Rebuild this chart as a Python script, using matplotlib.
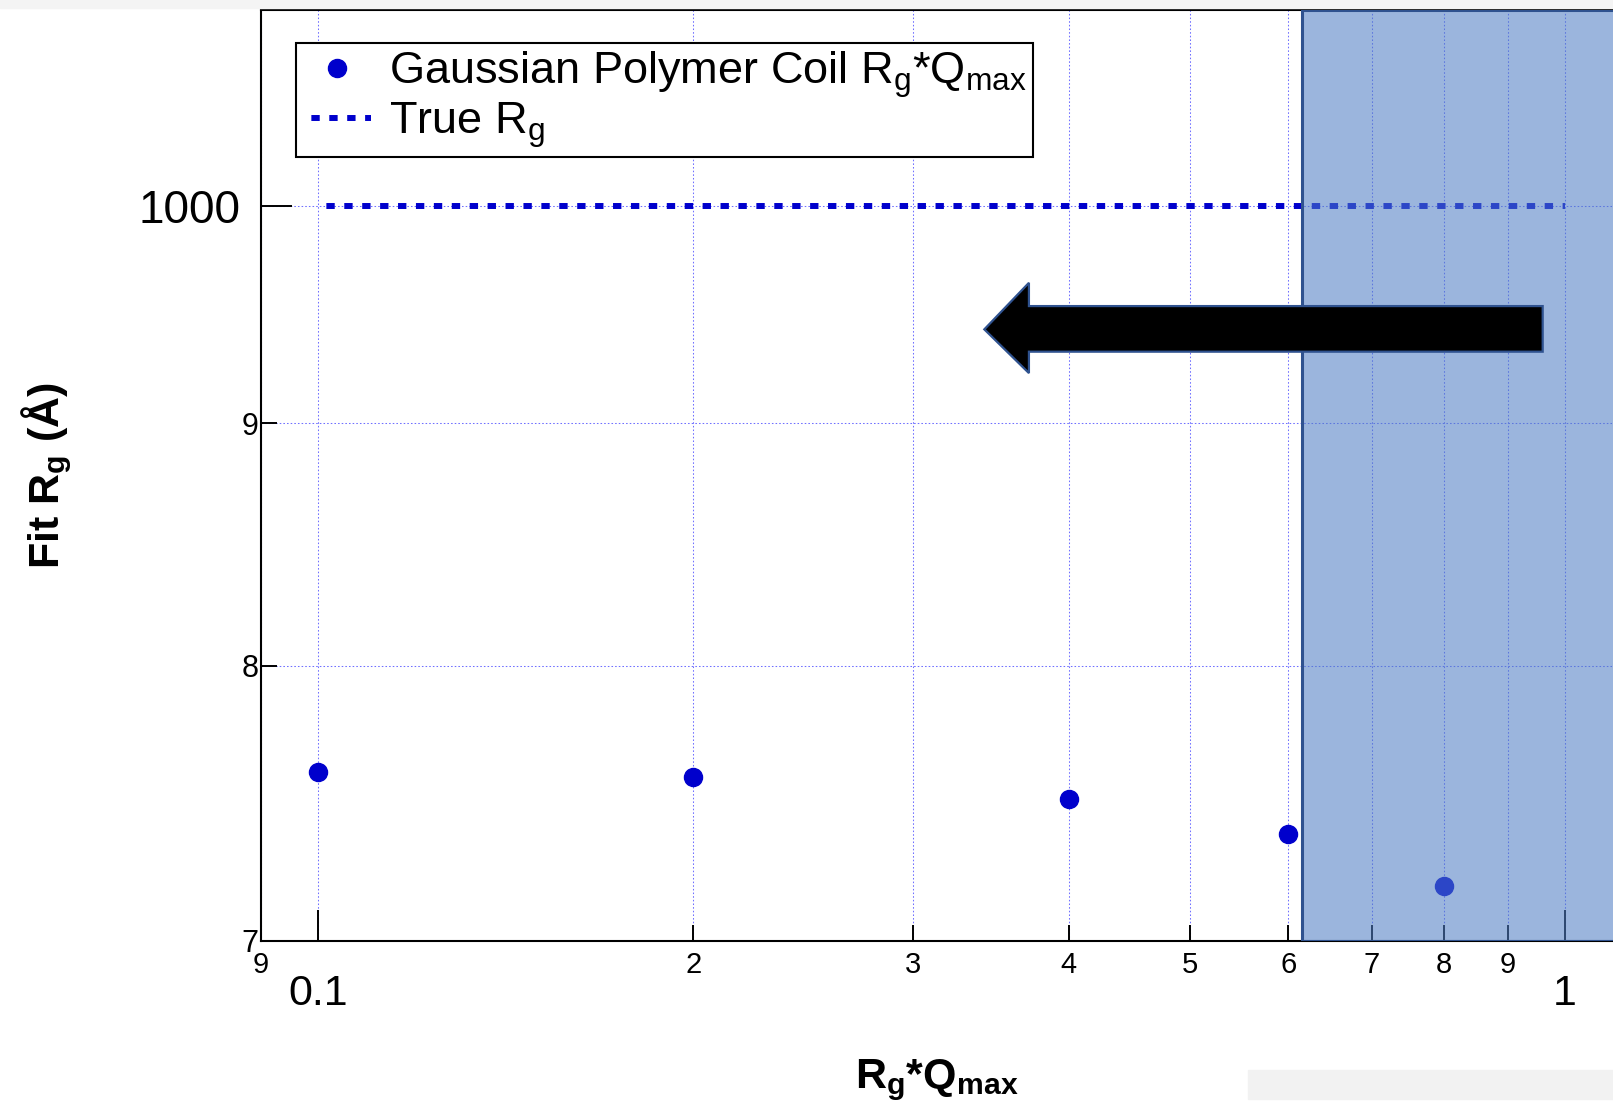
"""
Fit Rg vs Rg*Qmax for a Gaussian polymer coil -> out.png
"""
import matplotlib
matplotlib.use("Agg")
import matplotlib.pyplot as plt
from matplotlib.patches import Polygon, Rectangle
from matplotlib.ticker import FixedLocator, FixedFormatter

plt.rcParams["font.family"] = ["Liberation Sans", "DejaVu Sans"]
plt.rcParams["mathtext.fontset"] = "custom"
plt.rcParams["mathtext.rm"] = "Liberation Sans"
plt.rcParams["mathtext.it"] = "Liberation Sans:italic"
plt.rcParams["mathtext.bf"] = "Liberation Sans:bold"

# ---- data ----
rgq = [0.1, 0.2, 0.4, 0.6, 0.8]
fit_rg = [760, 758, 750, 737.5, 719]
true_rg = 1000
true_x = [0.1, 1.0]
shade_start = 0.615          # invalid-fit region starts here

x_major = [0.1, 1]
x_major_lab = ["0.1", "1"]
x_minor = [0.09, 0.2, 0.3, 0.4, 0.5, 0.6, 0.7, 0.8, 0.9]
x_minor_lab = ["9", "2", "3", "4", "5", "6", "7", "8", "9"]
y_major = [1000]
y_major_lab = ["1000"]
y_minor = [700, 800, 900]
y_minor_lab = ["7", "8", "9"]

# arrow outline in axes fraction (tip, head, shaft)
arrow_xy = [(0.535, 0.657), (0.568, 0.707), (0.568, 0.682), (0.948, 0.682),
            (0.948, 0.633), (0.568, 0.633), (0.568, 0.610)]

BLUE = "#0000CC"
GRIDC = "#6F6FFF"
EDGE = "#2F528F"

fig = plt.figure(figsize=(16.13, 11.02), dpi=100)
ax = fig.add_axes([0.1618, 0.1461, 0.8382, 0.8448])
ax.set_xscale("log"); ax.set_yscale("log")
ax.set_xlim(0.09, 1.093); ax.set_ylim(700, 1100)

ax.xaxis.set_major_locator(FixedLocator(x_major))
ax.xaxis.set_major_formatter(FixedFormatter(x_major_lab))
ax.xaxis.set_minor_locator(FixedLocator(x_minor))
ax.xaxis.set_minor_formatter(FixedFormatter(x_minor_lab))
ax.yaxis.set_major_locator(FixedLocator(y_major))
ax.yaxis.set_major_formatter(FixedFormatter(y_major_lab))
ax.yaxis.set_minor_locator(FixedLocator(y_minor))
ax.yaxis.set_minor_formatter(FixedFormatter(y_minor_lab))

ax.tick_params(which="both", direction="in", width=1.4, color="black")
ax.tick_params(which="major", length=22)
ax.tick_params(which="minor", length=11.5)
ax.tick_params(axis="x", which="major", labelsize=31, pad=24)
ax.tick_params(axis="x", which="minor", labelsize=21, pad=7)
ax.tick_params(axis="y", which="major", labelsize=33, pad=15)
ax.tick_params(axis="y", which="minor", labelsize=22, pad=2)

ax.grid(True, which="both", ls=(0, (1.5, 2)), color=GRIDC, lw=0.75)
for s in ["left", "bottom", "top"]:
    ax.spines[s].set_linewidth(1.5)
ax.spines["right"].set_visible(False)

ax.plot(rgq, fit_rg, "o", color=BLUE, ms=13, zorder=2.6,
        label=r"Gaussian Polymer Coil R$_\mathrm{g}$*Q$_\mathrm{max}$")
ax.plot(true_x, [true_rg, true_rg], color=BLUE, lw=4.3,
        ls=(1.6, (1.4, 1.6)), dash_capstyle="butt", zorder=2.6,
        label=r"True R$_\mathrm{g}$")

# shaded region (semi-transparent, on top of data)
ax.axvspan(shade_start, 1.2, facecolor=(0.31, 0.49, 0.77, 0.57),
           edgecolor=EDGE, lw=2.2, zorder=3)

ax.add_patch(Polygon(arrow_xy, closed=True, transform=ax.transAxes,
                     facecolor="black", edgecolor=EDGE, lw=1.6, zorder=4))

leg = ax.legend(loc="upper left", bbox_to_anchor=(0.026, 0.965), fontsize=32.5,
                frameon=True, fancybox=False, framealpha=1, edgecolor="black",
                handlelength=1.5, handletextpad=0.4, borderpad=0.15,
                labelspacing=0.0, borderaxespad=0)
leg.get_frame().set_linewidth(1.5)
leg.set_zorder(5)

ax.set_xlabel(r"$\mathbf{R_g{*}Q_{max}}$", fontsize=31)
ax.xaxis.set_label_coords(0.5, -0.125)
ax.set_ylabel(r"$\mathbf{Fit\ R_g\ (Å)}$", fontsize=31)
ax.yaxis.set_label_coords(-0.1385, 0.5)

# light grey screen-capture strips
fig.patches.append(Rectangle((0, 0.993), 1, 0.007, transform=fig.transFigure,
                             color="#F4F4F4", zorder=0))
fig.patches.append(Rectangle((0.7737, 0.0027), 0.2263, 0.0263,
                             transform=fig.transFigure, color="#F2F2F2", zorder=0))

plt.savefig("out.png", dpi=100)
